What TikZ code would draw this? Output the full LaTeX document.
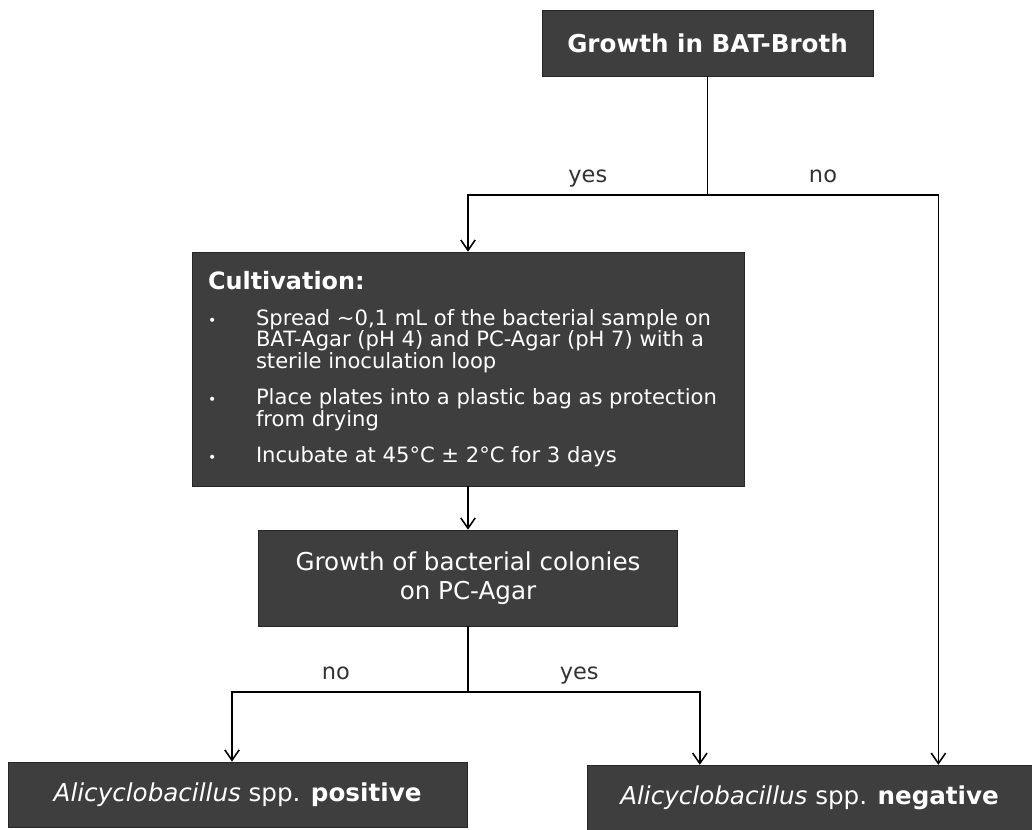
\documentclass[tikz,border=0pt]{standalone}
\usepackage{fontspec}
\setmainfont{DejaVu Sans}
\usepackage{xcolor}
\usepackage{tikz}
\usetikzlibrary{shapes.geometric, arrows.meta, positioning}
\definecolor{boxgray}{RGB}{62,62,62}
\tikzstyle{box} = [rectangle, align=center, draw=black!85, fill=boxgray, text=white, font=\fontsize{17.5}{20.5}\selectfont]
\tikzstyle{line} = [draw, line width=1.1pt, -{Straight Barb[length=2.6mm, width=3.6mm]}]
\tikzstyle{link} = [draw, line width=1.1pt]
\tikzstyle{answer} = [above, pos=0.25, text depth=0pt, inner ysep=8pt, font=\fontsize{16}{18}\selectfont, text=black!80]
\newcommand{\bitem}[1]{\par\hangindent=1.2cm\hangafter=1\noindent\makebox[1.2cm][l]{\fontsize{10}{10}\selectfont\textbullet}#1}

\begin{document}
\begin{tikzpicture}[node distance = 1.3cm, auto]
    \useasboundingbox (0,0) rectangle (25.8,-20.75);
    % Nodes
    \node [box, minimum width=8.275cm, minimum height=1.65cm, font=\bfseries\fontsize{17.5}{20.5}\selectfont] (broth) at (17.69,-1.075) {Growth in BAT-Broth};
    \node [box, below of=broth, node distance=8.15cm, xshift=-5.99cm, text width=13.0cm, minimum height=5.85cm, inner xsep=0.4cm, align=flush left] (cult) {%
        \fontsize{15}{15.3}\selectfont\setlength{\parskip}{10.5pt}\hyphenpenalty=10000\exhyphenpenalty=10000%
        {\bfseries\fontsize{17}{20.5}\selectfont Cultivation:}
        \bitem{Spread \textasciitilde0,1 mL of the bacterial sample on\newline BAT-Agar (pH 4) and PC-Agar (pH 7) with a\newline sterile inoculation loop}
        \bitem{Place plates into a plastic bag as protection\newline from drying}
        \bitem{Incubate at 45°C ± 2°C for 3 days}\par};
    \node [box, below of=cult, node distance=5.225cm, minimum width=10.475cm, minimum height=2.4cm] (colonies) {Growth of bacterial colonies\\ on PC-Agar};
    \node [box, below of=colonies, node distance=5.41cm, xshift=-5.76cm, minimum width=11.475cm, minimum height=1.625cm] (pos) {\textit{Alicyclobacillus} spp. \textbf{positive}};
    \node [box, below of=colonies, node distance=5.49cm, xshift=8.54cm, minimum width=11.125cm, minimum height=1.625cm] (neg) {\textit{Alicyclobacillus} spp. \textbf{negative}};
    \coordinate [below of=broth, node distance=3.8cm] (fork1);
    \coordinate [below of=colonies, node distance=2.85cm] (fork2);

    % Edges
    \path [link] (broth) -- (fork1);
    \path [line] (fork1) -| node [answer] {yes} (cult);
    \path [line] (fork1) -| node [answer] {no} ([xshift=-2.35cm]neg.north east);
    \path [line] (cult) -- (colonies);
    \path [link] (colonies) -- (fork2);
    \path [line] (fork2) -| node [answer, pos=0.28] {no} ([xshift=-0.14cm]pos.north);
    \path [line] (fork2) -| node [answer, pos=0.24] {yes} ([xshift=2.825cm]neg.north west);
\end{tikzpicture}
\end{document}
